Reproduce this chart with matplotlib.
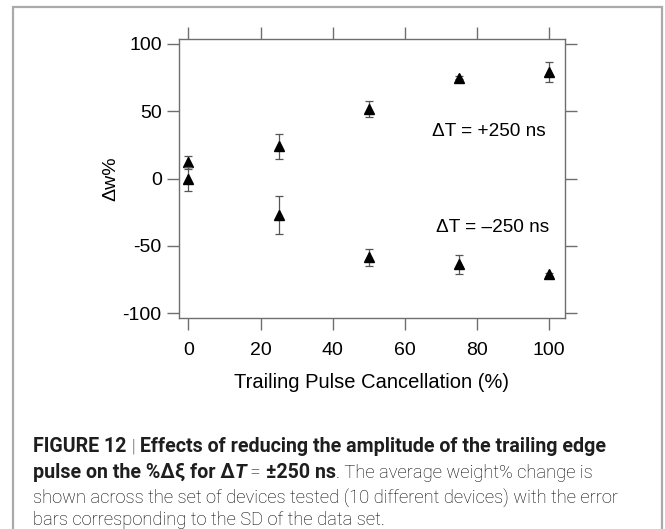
import matplotlib
matplotlib.use("Agg")
import matplotlib.pyplot as plt
from matplotlib.patches import Rectangle

# ---- data ----
x_vals = [0, 25, 50, 75, 100]
pos_mean = [12, 24, 52, 75, 79]
pos_err = [4.5, 9.5, 6.0, 1.0, 7.5]
neg_mean = [0, -27, -58.5, -63.5, -71]
neg_err = [9.0, 14.0, 6.5, 7.0, 1.0]
xticks = [0, 20, 40, 60, 80, 100]
yticks = [-100, -50, 0, 50, 100]
label_pos = "\u0394T = +250 ns"
label_neg = "\u0394T = \u2013250 ns"
xlabel = "Trailing Pulse Cancellation (%)"
ylabel = "\u0394w%"

plt.rcParams['font.family'] = ['Liberation Sans', 'DejaVu Sans']
W, H = 665, 529
fig = plt.figure(figsize=(W / 100, H / 100), dpi=100)

# outer frame
fig.patches.append(Rectangle((13 / W, -0.05), (662 - 13) / W, 1.05 - 6.5 / H,
                             transform=fig.transFigure, fill=False,
                             edgecolor='#aaaaaa', lw=1.6))

ax = fig.add_axes([179 / W, 1 - 318 / H, (565 - 179) / W, (318 - 39) / H])
spine_c = '#6e6e6e'
for s in ax.spines.values():
    s.set_color(spine_c)
    s.set_linewidth(1.0)

for m, e in ((pos_mean, pos_err), (neg_mean, neg_err)):
    ax.errorbar(x_vals, m, yerr=e, fmt='none', ecolor='#555555', elinewidth=0.9,
                capsize=2.8, capthick=0.9)
    ax.plot(x_vals, m, linestyle='none', marker='^', markersize=6.5, color='black')

ax.set_xlim(-2.6, 104.4)
ax.set_ylim(-103.5, 103.7)
ax.set_xticks(xticks)
ax.set_yticks(yticks)
ax.set_xticklabels([str(t) for t in xticks])
ax.set_yticklabels([str(t) for t in yticks])
ax.tick_params(axis='both', which='both', direction='out', length=8.5, width=1.0,
               color=spine_c, labelsize=14,
               top=True, right=True, labeltop=False, labelright=False)
ax.tick_params(axis='x', pad=9)
ax.tick_params(axis='y', pad=4)

ax.set_xlabel(xlabel, fontsize=14.5, labelpad=10)
ax.set_ylabel(ylabel, fontsize=14, labelpad=2)

ax.text(67.6, 34.9, label_pos, fontsize=13.7, ha='left', va='center')
ax.text(68.7, -36.6, label_neg, fontsize=13.7, ha='left', va='center')

# ---- caption ----
cap_lines = [
    [("FIGURE 12 ", 'bold', 'normal'), ("|", 'light', 'normal'),
     (" Effects of reducing the amplitude of the trailing edge", 'bold', 'normal')],
    [("pulse on the %\u0394\u03be for \u0394", 'bold', 'normal'), ("T", 'bold', 'italic'),
     (" = ", 'light', 'normal'), ("\u00b1250 ns", 'bold', 'normal'),
     (". The average weight% change is", 'light', 'normal')],
    [("shown across the set of devices tested (10 different devices) with the error", 'light', 'normal')],
    [("bars corresponding to the SD of the data set.", 'light', 'normal')],
]
cap_y = [445, 471, 495, 518]
fs_bold = 14.1
fs_reg = 13.2
renderer = fig.canvas.get_renderer()
for line, yy in zip(cap_lines, cap_y):
    xpix = 33
    for txt, wt, st in line:
        fs = fs_bold if wt == 'bold' else fs_reg
        col = '#1e1e1e' if wt == 'bold' else '#000000'
        t = fig.text(xpix / W, 1 - yy / H, txt, fontsize=fs, fontweight=wt,
                     fontstyle=st, color=col, va='center_baseline', ha='left',
                     family=['Roboto', 'DejaVu Sans'])
        bb = t.get_window_extent(renderer)
        xpix += bb.width

fig.savefig("out.png", dpi=100)
